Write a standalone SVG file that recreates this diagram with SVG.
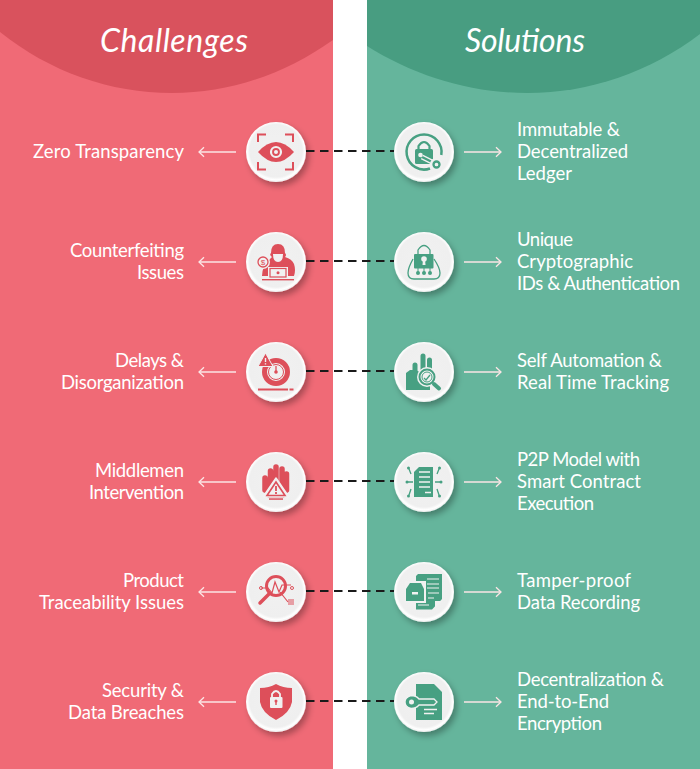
<svg xmlns="http://www.w3.org/2000/svg" width="700" height="769" viewBox="0 0 700 769">
<style>
.t{font-family:"Lato","Liberation Sans",sans-serif;font-size:18.500px;fill:#fff}
.r{text-anchor:end}
.h{font-family:"Lato","Liberation Sans",sans-serif;font-size:32px;font-style:italic;fill:#fff;text-anchor:middle}
.a{fill:none;stroke:#fbe6e6;stroke-width:1.300;marker-end:url(#ah)}
.dash{fill:none;stroke:#1a1a1a;stroke-width:2.200;stroke-dasharray:8.500 5.500}
.rd{fill:#dd4f5a}.gr{fill:#47a082}
.rl{fill:none;stroke:#dd4f5a}.gl{fill:none;stroke:#47a082}
.w{fill:#f1f1f1}
.ws{fill:none;stroke:#f1f1f1}
</style>
<defs>
<radialGradient id="btn" cx="50%" cy="48%" r="52%"><stop offset="0" stop-color="#f1f1f1"/><stop offset=".84" stop-color="#efefef"/><stop offset=".93" stop-color="#ffffff"/><stop offset="1" stop-color="#ececec"/></radialGradient>
<filter id="sh" x="-30%" y="-30%" width="170%" height="170%"><feDropShadow dx="3" dy="4" stdDeviation="3" flood-color="#000" flood-opacity=".3"/></filter>
<circle id="b" r="30" fill="url(#btn)" filter="url(#sh)"/>
<marker id="ah" markerUnits="userSpaceOnUse" markerWidth="12" markerHeight="14" refX="6" refY="6" orient="auto"><path d="M1 1.200L6 6L1 10.800" fill="none" stroke="#fbe6e6" stroke-width="1.300"/></marker>
</defs>
<rect x="0" y="0" width="333" height="769" fill="#f06a76"/>
<rect x="367" y="0" width="333" height="769" fill="#65b59c"/>
<path d="M0 32C50 72 110 93 172 93C230 93 285 74 333 40V0H0Z" fill="#d9525d"/>
<path d="M367 46C415 76 470 93 527 93C590 93 650 72 700 34V0H367Z" fill="#489d81"/>
<text class="h" x="174" y="52" textLength="148">Challenges</text>
<text class="h" x="525" y="52" textLength="120">Solutions</text>
<g id="connectors">
<path class="dash" d="M306 151H394M306 261H394M306 371H394M306 481H394M306 591H394M306 701H394"/>
<path class="a" d="M236 152H199"/><path class="a" d="M236 262H199"/><path class="a" d="M236 372H199"/><path class="a" d="M236 482H199"/><path class="a" d="M236 592H199"/><path class="a" d="M236 702H199"/>
<path class="a" d="M464 152H501"/><path class="a" d="M464 262H501"/><path class="a" d="M464 372H501"/><path class="a" d="M464 482H501"/><path class="a" d="M464 592H501"/><path class="a" d="M464 702H501"/>
</g>
<g id="c1" transform="translate(276 152)"><use href="#b"/>
<path class="rl" stroke-width="2" d="M-18-10V-17.500H-10M9-17.500H17V-10M-18 10V17.500H-10M9 17.500H17V10"/>
<path class="rd" d="M-18 0Q-9-10 0-10Q9-10 18 0Q9 10 0 10Q-9 10-18 0Z"/><circle class="ws" stroke-width="2.200" r="5"/><circle class="w" r="2"/>
</g>
<g id="c2" transform="translate(278 262)"><use href="#b" x="-2"/>
<path class="rd" d="M-7-9Q-7-18 0-18Q7-18 7-9Q9-7 7-5Q14-3 16 2Q18 8 16 14H-16Q-16 4-8-3L-6-5Q-9-7-7-9Z"/>
<path class="w" d="M-5-8H5Q5 0 0 0Q-5 0-5-8Z"/>
<circle class="w" cx="-15" cy="0" r="7"/><circle class="rl" stroke-width="1.300" cx="-15" cy="0" r="5"/><text x="-15" y="3" font-family="Liberation Sans" font-size="8" fill="#dd4f5a" text-anchor="middle">$</text>
<rect x="-10" y="5" width="20" height="11" fill="#f1f1f1"/><rect class="rl" stroke-width="1.200" x="-8" y="6.500" width="16" height="8.500"/><circle class="rd" cy="10.800" r="1.500"/>
<rect class="rd" x="-16" y="17" width="32" height="1.400"/>
</g>
<g id="c3" transform="translate(276 372)"><use href="#b"/>
<circle class="rl" stroke-width="5" r="11.500"/><circle class="rl" stroke-width="1" r="7.500"/><circle class="rd" r="1.800"/><path class="rl" stroke-width="1.300" d="M0-6V0"/>
<path class="rd" stroke="#f1f1f1" d="M-10.500-19L-3-5.500H-18Z" stroke-linejoin="round" stroke-width="1"/><path class="ws" stroke-width="1.400" d="M-10.500-14V-10M-10.500-8.800V-7.500"/>
<rect class="rd" x="-18" y="16.500" width="30" height="2"/><rect class="rd" x="13.500" y="16.500" width="4" height="2"/>
</g>
<g id="c4" transform="translate(276 482)"><use href="#b"/>
<path class="rl" stroke-width="5.500" stroke-linecap="round" d="M-11-4V8M-5.500-11V8M0-15V8M6-13V8M10.500-8V8"/>
<path class="rd" d="M-13 0H13V8L8 16H-8L-13 8Z"/>
<path class="w" stroke="#f1f1f1" stroke-width="1.500" stroke-linejoin="round" d="M0-4L13 15H-13Z"/><path class="w" stroke="#dd4f5a" stroke-width="1.600" d="M0 0L9 13.500H-9Z"/>
<path class="rl" stroke-width="1.800" d="M0 4V9M0 10V12"/><rect class="rd" x="-7" y="16.300" width="14" height="1.500"/>
</g>
<g id="c5" transform="translate(276 592)"><use href="#b"/>
<circle class="rl" stroke-width="3" r="9.500" cy="-6"/><path class="rl" stroke-width="3.500" stroke-linecap="round" d="M-7 2L-16 11"/>
<path class="rl" stroke-width="1.200" d="M-15-4H-8L-4 1L-1-10L3 0L6-7H15M4 0L12 10"/><circle class="rl" stroke-width="1" cx="-15" cy="-4" r="1.500"/><circle class="rl" stroke-width="1" cx="16" cy="-4" r="1.500"/>
<path class="rl" stroke-width="1" d="M12 8H18M12 10H18M12 12H18"/>
</g>
<g id="c6" transform="translate(276 702)"><use href="#b"/>
<path class="rd" d="M-16-14Q-7-14 0-18Q7-14 16-14V0Q14 11 0 18Q-14 11-16 0Z"/>
<path class="ws" stroke-width="1.800" d="M-4-5V-8Q0-14 4-8V-5"/><rect class="w" x="-6" y="-5" width="12.500" height="11" rx="1"/><circle class="rd" cy="-1" r="1.500"/><rect class="rd" x="-.7" y="-1" width="1.400" height="4"/>
</g>
<g id="s1" transform="translate(424 152)"><use href="#b"/>
<path class="gl" stroke-width="2.500" d="M6 16.500A17.500 17.500 0 1 1 17.300 3"/>
<rect class="gr" x="-9" y="-3" width="18" height="15" rx="1.500"/><path class="gl" stroke-width="2.200" d="M-5.500-3V-6Q0-14 5.500-6V-3"/>
<path class="ws" stroke-width="5" d="M-2 5L12 12"/><path class="gl" stroke-width="2.200" d="M-2 5L10 11"/><circle class="w" cx="12" cy="12" r="6"/><circle class="gl" stroke-width="2.300" cx="12.500" cy="12.500" r="3"/>
<circle class="w" cx="-3.500" cy="3" r="2.300"/>
</g>
<g id="s2" transform="translate(424 262)"><use href="#b"/>
<path class="gl" stroke-width="1.300" d="M-6-7V-12Q0-21 6-12V-7"/><rect class="gr" x="-10" y="-8" width="19.500" height="14.500" rx="1"/>
<circle class="w" cy="-3" r="2.800"/><path class="w" d="M-1-3H1L1.500 3H-1.500Z"/>
<path class="gl" stroke-width="1.300" d="M-11-3Q-16 6-16 11Q-16 17-10 17H10Q16 17 16 11Q16 6 10-3"/>
<circle class="gr" cx="-6" cy="11" r="2"/><circle class="gr" cy="11" r="2"/><circle class="gr" cx="6" cy="11" r="2"/>
<path class="gl" d="M-6 6V11M0 6V11M6 6V11"/>
</g>
<g id="s3" transform="translate(424 372)"><use href="#b"/>
<path class="gl" stroke-width="5" stroke-linecap="round" d="M-9-7V2M-1-16V2M5.500-12V-2"/>
<path class="gr" d="M-18 1L-14-2H-8L-3 1V18H-18Z"/><path class="gr" d="M-18 18H6V6H-18Z"/>
<circle fill="#f1f1f1" cx="3" cy="5" r="10"/>
<circle class="gl" stroke-width="2" cx="3" cy="5" r="7.500"/><circle class="gl" stroke-width="1" cx="3" cy="5" r="5"/><path class="gl" stroke-width="1.300" d="M0 6L2 8L6 3"/><path class="gl" stroke-width="4" stroke-linecap="round" d="M10 12L15 16.500"/>
</g>
<g id="s4" transform="translate(424 482)"><use href="#b"/>
<path class="gr" d="M-5-15H9V15H-10V-10Z"/><path class="ws" stroke-width="1.300" d="M-5-10H6M-5-5H6M-5 0H6M-5 5H6M1 10.500H7"/>
<path class="gl" stroke-width="1.300" d="M-15-13L-13-8M15-13L13-8M-17 0H-11M11 0H17M-15 13L-13 7M15 13L13 7"/>
<circle class="gr" cx="-15.500" cy="-14" r="1.500"/><circle class="gr" cx="15.500" cy="-14" r="1.500"/><circle class="gr" cx="-17" cy="0" r="1.500"/><circle class="gr" cx="17" cy="0" r="1.500"/><circle class="gr" cx="-15.500" cy="14" r="1.500"/><circle class="gr" cx="15.500" cy="14" r="1.500"/>
</g>
<g id="s5" transform="translate(424 592)"><use href="#b"/>
<path class="gr" d="M-6-18H18V7L8 17.500H-8V-16Z"/>
<path class="ws" stroke-width="1.200" d="M3-13H15M3-8H15M3-4H15M4 1H15M4 6H10M-6 13H5"/><path class="w" d="M11 16V9H18Z"/>
<rect fill="#f1f1f1" x="-19" y="-11" width="21" height="22"/>
<path class="gr" d="M-18-3L-14-9H-3L0-3V9H-18Z"/><rect x="-12" y="0" width="6" height="2.500" fill="#f1f1f1"/>
</g>
<g id="s6" transform="translate(424 702)"><use href="#b"/>
<path class="gr" d="M-8-18H10L18-10V18H-8Z"/>
<path class="gr" stroke="#f1f1f1" stroke-width="1.300" d="M-13-6.500Q-8-6.500-5-3H10L13 0L10 3H-5Q-8 6.500-13 6.500Q-19 5-19 0Q-19-5-13-6.500Z"/><circle class="w" cx="-12.500" cy="0" r="2.500"/>
<path class="ws" stroke-width="1.300" d="M0 7.500H13M0 11.500H10"/>
</g>
<g id="labels">
<text class="t r" x="184" y="158" textLength="151">Zero Transparency</text>
<text class="t r" x="184" y="257" textLength="114">Counterfeiting</text><text class="t r" x="184" y="279" textLength="47">Issues</text>
<text class="t r" x="184" y="367" textLength="69">Delays &amp;</text><text class="t r" x="184" y="389" textLength="123">Disorganization</text>
<text class="t r" x="184" y="477" textLength="89">Middlemen</text><text class="t r" x="184" y="499" textLength="95">Intervention</text>
<text class="t r" x="184" y="587" textLength="61">Product</text><text class="t r" x="184" y="609" textLength="145">Traceability Issues</text>
<text class="t r" x="184" y="697" textLength="82">Security &amp;</text><text class="t r" x="184" y="719" textLength="116">Data Breaches</text>
<text class="t" x="517" y="136" textLength="103">Immutable &amp;</text><text class="t" x="517" y="158" textLength="111">Decentralized</text><text class="t" x="517" y="180" textLength="55">Ledger</text>
<text class="t" x="517" y="246" textLength="56">Unique</text><text class="t" x="517" y="268" textLength="116">Cryptographic</text><text class="t" x="517" y="290" textLength="163">IDs &amp; Authentication</text>
<text class="t" x="517" y="367" textLength="145">Self Automation &amp;</text><text class="t" x="517" y="389" textLength="152">Real Time Tracking</text>
<text class="t" x="517" y="466" textLength="123">P2P Model with</text><text class="t" x="517" y="488" textLength="124">Smart Contract</text><text class="t" x="517" y="510" textLength="77">Execution</text>
<text class="t" x="517" y="587" textLength="114">Tamper-proof</text><text class="t" x="517" y="609" textLength="123">Data Recording</text>
<text class="t" x="517" y="686" textLength="147">Decentralization &amp;</text><text class="t" x="517" y="708" textLength="92">End-to-End</text><text class="t" x="517" y="730" textLength="85">Encryption</text>
</g>
</svg>
